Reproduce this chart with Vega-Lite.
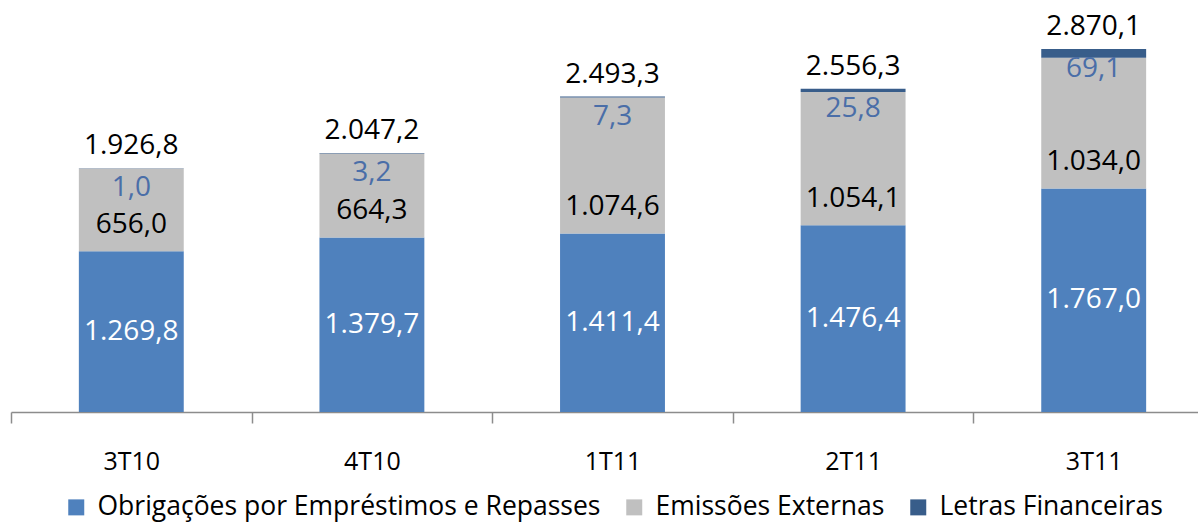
{
  "$schema": "https://vega.github.io/schema/vega-lite/v6.json",
  "width": 1187,
  "height": 412,
  "autosize": {"type": "none"},
  "padding": {"left": 11, "top": 0, "right": 0, "bottom": 114},
  "background": "white",
  "config": {
    "view": {"stroke": null},
    "font": "Open Sans",
    "locale": {"number": {"decimal": ",", "thousands": ".", "grouping": [3], "currency": ["R$", ""]}}
  },
  "datasets": {
    "longo": [
      {"periodo": "3T10", "serie": "Obrigações por Empréstimos e Repasses", "ordem": 1, "valor": 1269.8},
      {"periodo": "3T10", "serie": "Emissões Externas", "ordem": 2, "valor": 656.0},
      {"periodo": "3T10", "serie": "Letras Financeiras", "ordem": 3, "valor": 1.0},
      {"periodo": "4T10", "serie": "Obrigações por Empréstimos e Repasses", "ordem": 1, "valor": 1379.7},
      {"periodo": "4T10", "serie": "Emissões Externas", "ordem": 2, "valor": 664.3},
      {"periodo": "4T10", "serie": "Letras Financeiras", "ordem": 3, "valor": 3.2},
      {"periodo": "1T11", "serie": "Obrigações por Empréstimos e Repasses", "ordem": 1, "valor": 1411.4},
      {"periodo": "1T11", "serie": "Emissões Externas", "ordem": 2, "valor": 1074.6},
      {"periodo": "1T11", "serie": "Letras Financeiras", "ordem": 3, "valor": 7.3},
      {"periodo": "2T11", "serie": "Obrigações por Empréstimos e Repasses", "ordem": 1, "valor": 1476.4},
      {"periodo": "2T11", "serie": "Emissões Externas", "ordem": 2, "valor": 1054.1},
      {"periodo": "2T11", "serie": "Letras Financeiras", "ordem": 3, "valor": 25.8},
      {"periodo": "3T11", "serie": "Obrigações por Empréstimos e Repasses", "ordem": 1, "valor": 1767.0},
      {"periodo": "3T11", "serie": "Emissões Externas", "ordem": 2, "valor": 1034.0},
      {"periodo": "3T11", "serie": "Letras Financeiras", "ordem": 3, "valor": 69.1}
    ],
    "largo": [
      {"periodo": "3T10", "obrig": 1269.8, "emiss": 656.0, "letras": 1.0, "total": 1926.8},
      {"periodo": "4T10", "obrig": 1379.7, "emiss": 664.3, "letras": 3.2, "total": 2047.2},
      {"periodo": "1T11", "obrig": 1411.4, "emiss": 1074.6, "letras": 7.3, "total": 2493.3},
      {"periodo": "2T11", "obrig": 1476.4, "emiss": 1054.1, "letras": 25.8, "total": 2556.3},
      {"periodo": "3T11", "obrig": 1767.0, "emiss": 1034.0, "letras": 69.1, "total": 2870.1}
    ]
  },
  "encoding": {
    "x": {
      "field": "periodo",
      "type": "nominal",
      "sort": ["3T10", "4T10", "1T11", "2T11", "3T11"],
      "scale": {"range": [0, 1203], "paddingInner": 0, "paddingOuter": 0},
      "axis": {
        "title": null,
        "labelAngle": 0,
        "tickBand": "extent",
        "domainColor": "#8c8c8c",
        "domainWidth": 1.5,
        "tickColor": "#8c8c8c",
        "tickWidth": 1.5,
        "tickSize": 11,
        "labelFont": "Open Sans",
        "labelFontSize": 25,
        "labelColor": "#000000",
        "labelPadding": 26
      }
    }
  },
  "layer": [
    {
      "data": {"name": "longo"},
      "mark": {"type": "bar", "width": {"band": 0.436}},
      "encoding": {
        "y": {"field": "valor", "type": "quantitative", "stack": "zero", "scale": {"domain": [0, 3257]}, "axis": null},
        "color": {
          "field": "serie",
          "type": "nominal",
          "sort": ["Obrigações por Empréstimos e Repasses", "Emissões Externas", "Letras Financeiras"],
          "scale": {
            "domain": ["Obrigações por Empréstimos e Repasses", "Emissões Externas", "Letras Financeiras"],
            "range": ["#4F81BD", "#C0C0C0", "#385D8A"]
          },
          "legend": {
            "title": null,
            "orient": "none",
            "direction": "horizontal",
            "legendX": 52,
            "legendY": 494,
            "symbolType": "square",
            "symbolSize": 256,
            "symbolStrokeWidth": 0,
            "labelFont": "Open Sans",
            "labelFontSize": 26.5,
            "labelColor": "#000000",
            "labelOffset": 8,
            "labelLimit": 0,
            "columnPadding": 20
          }
        },
        "order": {"field": "ordem", "type": "quantitative"}
      }
    },
    {
      "data": {"name": "largo"},
      "mark": {"type": "text", "fontSize": 28, "color": "#000000", "baseline": "middle", "dy": -22},
      "encoding": {
        "y": {"field": "total", "type": "quantitative", "scale": {"domain": [0, 3257]}, "axis": null},
        "text": {"field": "total", "type": "quantitative", "format": ",.1f"}
      }
    },
    {
      "data": {"name": "largo"},
      "mark": {"type": "text", "fontSize": 28, "color": "#4A6EA8", "baseline": "middle", "dy": 20},
      "encoding": {
        "y": {"field": "total", "type": "quantitative", "scale": {"domain": [0, 3257]}, "axis": null},
        "text": {"field": "letras", "type": "quantitative", "format": ",.1f"}
      }
    },
    {
      "data": {"name": "largo"},
      "mark": {"type": "text", "fontSize": 28, "color": "#000000", "baseline": "middle", "dy": -26},
      "encoding": {
        "y": {"field": "obrig", "type": "quantitative", "scale": {"domain": [0, 3257]}, "axis": null},
        "text": {"field": "emiss", "type": "quantitative", "format": ",.1f"}
      }
    },
    {
      "data": {"name": "largo"},
      "mark": {"type": "text", "fontSize": 28, "color": "#FFFFFF", "baseline": "middle"},
      "encoding": {
        "y": {"field": "obrig", "type": "quantitative", "scale": {"domain": [0, 6514]}, "axis": null},
        "text": {"field": "obrig", "type": "quantitative", "format": ",.1f"}
      }
    }
  ],
  "resolve": {"scale": {"y": "independent"}}
}
